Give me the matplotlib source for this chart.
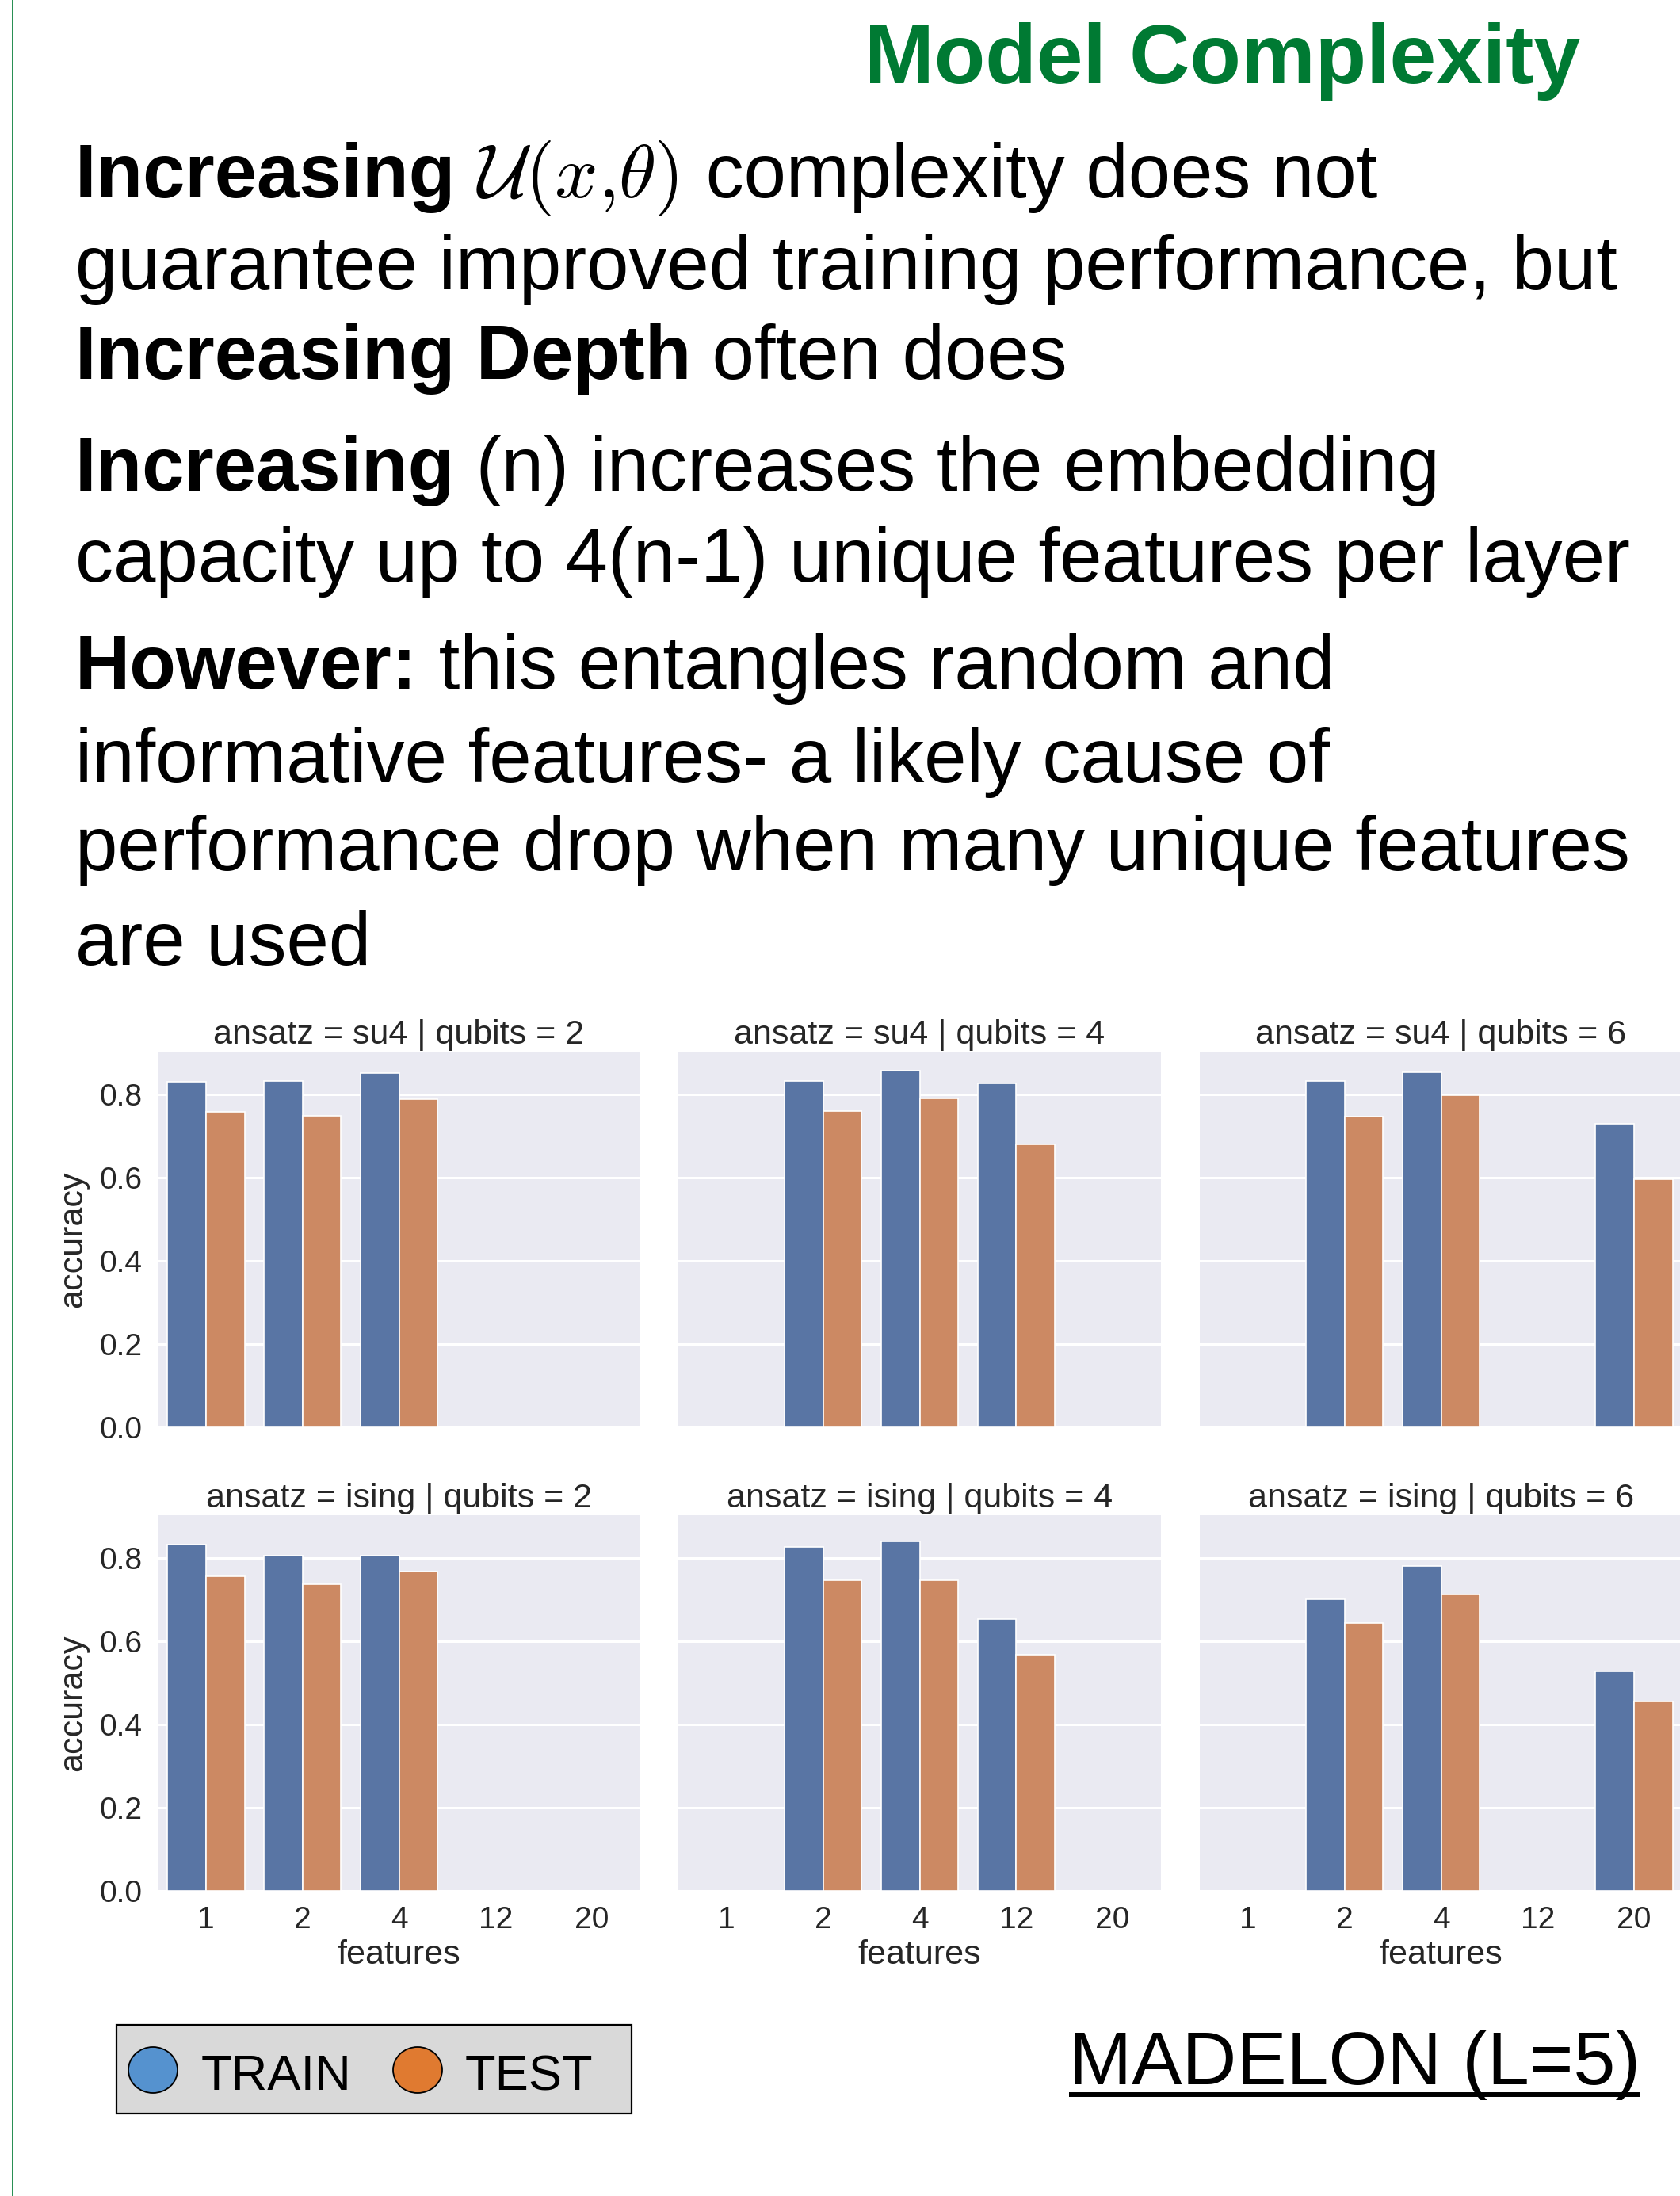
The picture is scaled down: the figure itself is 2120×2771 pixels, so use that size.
import matplotlib
matplotlib.use('Agg')
import matplotlib.pyplot as plt
from matplotlib.patches import Rectangle, Ellipse
from matplotlib.lines import Line2D
import numpy as np

plt.rcParams['font.family'] = ['Liberation Sans', 'DejaVu Sans']
plt.rcParams['mathtext.fontset'] = 'cm'

# data (nan = not run)
features = ['1', '2', '4', '12', '20']
ansatz = ['su4', 'ising']
qubits = [2, 4, 6]
nan = np.nan
train = {
    ('su4', 2): [0.830, 0.833, 0.851, nan, nan],
    ('su4', 4): [nan, 0.833, 0.857, 0.827, nan],
    ('su4', 6): [nan, 0.833, 0.853, nan, 0.730],
    ('ising', 2): [0.833, 0.806, 0.806, nan, nan],
    ('ising', 4): [nan, 0.826, 0.840, 0.654, nan],
    ('ising', 6): [nan, 0.702, 0.782, nan, 0.527],
}
test = {
    ('su4', 2): [0.758, 0.748, 0.789, nan, nan],
    ('su4', 4): [nan, 0.760, 0.790, 0.680, nan],
    ('su4', 6): [nan, 0.747, 0.798, nan, 0.596],
    ('ising', 2): [0.757, 0.737, 0.768, nan, nan],
    ('ising', 4): [nan, 0.747, 0.747, 0.568, nan],
    ('ising', 6): [nan, 0.644, 0.713, nan, 0.456],
}

W, H = 2120, 2771
fig = plt.figure(figsize=(W / 100, H / 100), dpi=100)
renderer = fig.canvas.get_renderer()


def fx(x):
    return x / W


def fy(y):
    return 1 - y / H


green = '#007a33'
fig.add_artist(Line2D([fx(16), fx(16)], [0, 1], color=green, lw=1.2))

fig.text(fx(1994), fy(105), 'Model Complexity', fontsize=76, fontweight='bold',
         color=green, ha='right', va='baseline')

# body text, line by line (text, weight)
body = [
    (249, [('Increasing ', 'bold'), (r'$\mathcal{U}(x{,}\theta)$', 'normal'), (' complexity does not', 'normal')]),
    (365, [('guarantee improved training performance, but', 'normal')]),
    (478, [('Increasing Depth', 'bold'), (' often does', 'normal')]),
    (619, [('Increasing', 'bold'), (' (n) increases the embedding', 'normal')]),
    (734, [('capacity up to 4(n-1) unique features per layer', 'normal')]),
    (869, [('However:', 'bold'), (' this entangles random and', 'normal')]),
    (987, [('informative features- a likely cause of', 'normal')]),
    (1098, [('performance drop when many unique features', 'normal')]),
    (1218, [('are used', 'normal')]),
]
body_size = 69
for yb, parts in body:
    x = 95
    for s, w in parts:
        t = fig.text(fx(x), fy(yb), s, fontsize=body_size, fontweight=w,
                     ha='left', va='baseline')
        bb = t.get_window_extent(renderer)
        x = bb.x1 + (8 if s.startswith('$') else 0)

# facet grid
col_left = [199, 856, 1514]
row_top = [1327, 1912]
aw, ah = 609, 474
xpos = np.arange(len(features))
for r, a in enumerate(ansatz):
    for c, q in enumerate(qubits):
        ax = fig.add_axes([fx(col_left[c]), fy(row_top[r] + ah), aw / W, ah / H])
        ax.set_facecolor('#eaeaf2')
        for sp in ax.spines.values():
            sp.set_visible(False)
        ax.bar(xpos - 0.2, train[(a, q)], width=0.4, color='#5975a4',
               edgecolor='white', linewidth=1.2, zorder=2)
        ax.bar(xpos + 0.2, test[(a, q)], width=0.4, color='#cc8963',
               edgecolor='white', linewidth=1.2, zorder=2)
        ax.set_xlim(-0.5, len(features) - 0.5)
        ax.set_ylim(0, 0.903)
        ax.set_yticks([0.0, 0.2, 0.4, 0.6, 0.8])
        ax.yaxis.grid(True, color='white', lw=2.2)
        ax.xaxis.grid(False)
        ax.set_axisbelow(True)
        ax.set_xticks(xpos)
        ax.set_xticklabels(features)
        ax.tick_params(length=0, pad=14, labelsize=28, labelcolor='#262626')
        ax.set_title(f'ansatz = {a} | qubits = {q}', fontsize=31,
                     color='#262626', pad=7)
        if c == 0:
            ax.set_ylabel('accuracy', fontsize=31, color='#262626')
            ax.yaxis.set_label_coords(-0.143, 0.5)
        else:
            ax.tick_params(labelleft=False)
        if r == 1:
            ax.set_xlabel('features', fontsize=31, color='#262626')
            ax.xaxis.set_label_coords(0.5, -0.129)
        else:
            ax.tick_params(labelbottom=False)

# legend box
fig.add_artist(Rectangle((fx(147), fy(2667)), 650 / W, 112 / H,
                         transform=fig.transFigure, facecolor='#d9d9d9',
                         edgecolor='black', lw=1.6))
fig.add_artist(Ellipse((fx(193), fy(2612)), 62 / W, 58 / H, transform=fig.transFigure,
                       facecolor='#5592cf', edgecolor='black', lw=1.3))
fig.add_artist(Ellipse((fx(527), fy(2612)), 62 / W, 58 / H, transform=fig.transFigure,
                       facecolor='#e07a30', edgecolor='black', lw=1.3))
fig.text(fx(254), fy(2637), 'TRAIN', fontsize=45.5, ha='left', va='baseline')
fig.text(fx(587), fy(2637), 'TEST', fontsize=45.5, ha='left', va='baseline')

# dataset tag, underlined
t = fig.text(fx(2070), fy(2630), 'MADELON (L=5)', fontsize=68.5, ha='right', va='baseline')
bb = t.get_window_extent(renderer)
fig.add_artist(Line2D([bb.x0 / W, bb.x1 / W], [fy(2643), fy(2643)],
                      color='black', lw=4.3, solid_capstyle='butt'))

fig.savefig('out.png', dpi=100)
